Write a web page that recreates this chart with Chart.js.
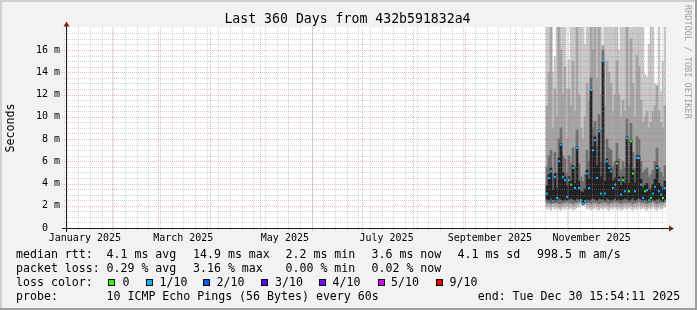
<!DOCTYPE html>
<html>
<head>
<meta charset="utf-8">
<title>Last 360 Days from 432b591832a4</title>
<script src="https://cdn.jsdelivr.net/npm/chart.js@4.4.1/dist/chart.umd.min.js"></script>
<style>
  body { margin: 0; background: #f2f2f2; }
  #wrap { position: relative; width: 697px; height: 310px; overflow: hidden; font-family: 'DejaVu Sans Mono', monospace; color: #000; }
  #grafico { position: absolute; left: 0; top: 0; }
  .t { position: absolute; white-space: pre; font-size: 11.6px; line-height: 14px; }
  .box { position: absolute; width: 7px; height: 7px; box-sizing: border-box; border: 1px solid #000; top: 279px; }
  #titulo { position: absolute; left: 0; top: 11px; width: 695px; text-align: center; font-size: 13.2px; line-height: 16px; white-space: pre; }
  #unidade { position: absolute; left: -25px; top: 120.5px; width: 70px; height: 14px; text-align: center; font-size: 11.6px; line-height: 14px; transform: rotate(-90deg); }
  #marca { position: absolute; left: 692px; top: 5px; font-size: 8.6px; line-height: 9px; color: #a0a0a0; white-space: pre; transform-origin: 0 0; transform: rotate(90deg); }
</style>
</head>
<body>
<div id="wrap">
  <canvas id="grafico" width="697" height="310"></canvas>
  <div id="titulo">Last 360 Days from 432b591832a4</div>
  <div id="unidade">Seconds</div>
  <div id="marca">RRDTOOL / TOBI OETIKER</div>

  <span class="t" style="left:16px;top:247px">median rtt:</span>
  <span class="t" style="left:106.5px;top:247px">4.1 ms avg</span>
  <span class="t" style="left:193px;top:247px">14.9 ms max</span>
  <span class="t" style="left:285.5px;top:247px">2.2 ms min</span>
  <span class="t" style="left:371.5px;top:247px">3.6 ms now</span>
  <span class="t" style="left:457.5px;top:247px">4.1 ms sd</span>
  <span class="t" style="left:537px;top:247px">998.5 m am/s</span>

  <span class="t" style="left:16px;top:261px">packet loss:</span>
  <span class="t" style="left:106.5px;top:261px">0.29 % avg</span>
  <span class="t" style="left:193px;top:261px">3.16 % max</span>
  <span class="t" style="left:285.5px;top:261px">0.00 % min</span>
  <span class="t" style="left:371.5px;top:261px">0.02 % now</span>

  <span class="t" style="left:16px;top:275px">loss color:</span>
  <span class="box" style="left:108px;background:#26ff00"></span><span class="t" style="left:122.5px;top:275px">0</span>
  <span class="box" style="left:145.5px;background:#00b8ff"></span><span class="t" style="left:159.5px;top:275px">1/10</span>
  <span class="box" style="left:203px;background:#0059ff"></span><span class="t" style="left:216.5px;top:275px">2/10</span>
  <span class="box" style="left:261px;background:#5e00ff"></span><span class="t" style="left:275px;top:275px">3/10</span>
  <span class="box" style="left:319px;background:#7e00ff"></span><span class="t" style="left:332.5px;top:275px">4/10</span>
  <span class="box" style="left:377.5px;background:#dd00ff"></span><span class="t" style="left:391px;top:275px">5/10</span>
  <span class="box" style="left:435.5px;background:#ff0000"></span><span class="t" style="left:449.5px;top:275px">9/10</span>

  <span class="t" style="left:16px;top:289px">probe:</span>
  <span class="t" style="left:106.5px;top:289px">10 ICMP Echo Pings (56 Bytes) every 60s</span>
  <span class="t" style="left:477.7px;top:289px">end: Tue Dec 30 15:54:11 2025</span>
</div>
<script>
// x values are days since the graph start (Jan 4 2025 15:54), one sample every 1.2 days
const days = [288.6, 289.8, 291.0, 292.2, 293.4, 294.6, 295.8, 297.0, 298.2, 299.4,
              300.6, 301.8, 303.0, 304.2, 305.4, 306.6, 307.8, 309.0, 310.2, 311.4,
              312.6, 313.8, 315.0, 316.2, 317.4, 318.6, 319.8, 321.0, 322.2, 323.4,
              324.6, 325.8, 327.0, 328.2, 329.4, 330.6, 331.8, 333.0, 334.2, 335.4,
              336.6, 337.8, 339.0, 340.2, 341.4, 342.6, 343.8, 345.0, 346.2, 347.4,
              348.6, 349.8, 351.0, 352.2, 353.4, 354.6, 355.8, 357.0, 358.2, 359.4];

// median rtt in ms
const median = [3.1, 4.5, 5.1, 2.4, 4.6, 2.7, 6.0, 7.5, 4.6, 4.3,
                2.8, 4.3, 3.9, 5.4, 3.6, 7.2, 3.6, 2.5, 2.2, 2.4,
                4.9, 3.6, 12.4, 7.0, 7.9, 4.5, 8.7, 3.1, 15.0, 3.1,
                6.0, 5.4, 5.1, 3.6, 3.9, 5.8, 4.3, 3.0, 4.3, 3.3,
                8.1, 3.3, 7.8, 4.9, 3.3, 6.3, 6.3, 3.9, 2.7, 3.3,
                3.4, 2.5, 2.7, 3.1, 3.7, 5.4, 3.3, 3.0, 2.7, 3.6];

// loss level index of each median point (0 = no loss, 1 = 1/10)
const loss = [1, 1, 1, 1, 1, 1, 1, 1, 1, 1,
              1, 1, 0, 1, 1, 1, 1, 1, 1, 1,
              1, 1, 1, 1, 1, 1, 1, 1, 1, 1,
              1, 1, 1, 1, 1, 0, 1, 1, 0, 1,
              1, 0, 0, 0, 1, 1, 1, 1, 1, 0,
              1, 1, 0, 1, 1, 1, 1, 1, 0, 1];

// smoke: outer (lightest) band, min .. max ping
const lightLo = [1.7, 1.8, 1.6, 1.9, 1.7, 1.8, 1.7, 1.6, 1.8, 1.7,
                 1.9, 1.7, 1.8, 1.6, 1.7, 1.8, 1.9, 2.3, 2.0, 2.1,
                 1.7, 1.8, 1.6, 1.7, 1.8, 1.7, 1.6, 1.8, 1.7, 1.8,
                 1.7, 1.6, 1.8, 1.7, 1.9, 1.7, 1.8, 1.6, 1.7, 1.8,
                 1.7, 1.8, 1.7, 1.6, 1.8, 1.7, 1.9, 1.7, 1.8, 1.7,
                 1.6, 1.8, 1.7, 1.9, 1.7, 1.6, 1.8, 1.7, 1.8, 1.9];
const lightHi = [18.1, 18.1, 18.1, 14.0, 15.4, 18.1, 18.1, 18.1, 18.1, 18.1,
                 12.5, 15.1, 18.1, 18.1, 18.1, 18.1, 18.1, 18.1, 18.1, 16.5,
                 18.1, 18.1, 18.1, 18.1, 18.1, 18.1, 18.1, 18.1, 16.4, 18.1,
                 18.1, 18.1, 18.1, 18.1, 18.1, 18.1, 16.0, 18.1, 18.1, 18.1,
                 18.1, 18.1, 18.1, 18.1, 18.1, 18.1, 18.1, 18.1, 18.1, 13.8,
                 13.6, 16.5, 18.1, 18.1, 13.0, 12.8, 18.1, 12.3, 15.0, 18.1];

// smoke: middle band
const midLo = [2.0, 2.1, 1.9, 2.2, 2.0, 2.1, 1.9, 1.9, 2.0, 2.0,
               2.2, 2.0, 2.1, 1.9, 2.0, 2.1, 2.2, 2.35, 2.05, 2.3,
               2.0, 2.1, 1.9, 2.0, 2.1, 2.0, 1.9, 2.1, 2.0, 2.1,
               2.0, 1.9, 2.1, 2.0, 2.2, 2.0, 2.1, 1.9, 2.0, 2.1,
               2.0, 2.1, 2.0, 1.9, 2.1, 2.0, 2.2, 2.0, 2.1, 2.0,
               1.9, 2.1, 2.0, 2.2, 2.0, 1.9, 2.1, 2.0, 2.1, 2.2];
const midHi = [11.0, 14.0, 18.1, 9.0, 12.5, 10.0, 18.1, 16.0, 12.0, 14.5,
               8.0, 12.5, 11.0, 15.0, 10.5, 18.1, 12.0, 9.0, 8.0, 10.0,
               13.0, 11.5, 18.1, 16.0, 18.1, 13.5, 18.1, 12.0, 16.4, 11.0,
               15.0, 14.0, 13.0, 10.5, 12.0, 15.0, 12.0, 10.0, 11.5, 10.5,
               18.1, 11.0, 17.0, 13.0, 10.0, 15.5, 14.5, 11.5, 9.5, 10.0,
               10.5, 9.0, 9.5, 10.5, 11.0, 12.8, 10.5, 9.5, 9.0, 11.0];

// smoke: dark band
const darkLo = [2.3, 2.3, 2.2, 2.3, 2.3, 2.3, 2.2, 2.2, 2.3, 2.3,
                2.4, 2.3, 2.3, 2.2, 2.3, 2.3, 2.4, 2.4, 2.1, 2.3,
                2.3, 2.3, 2.2, 2.3, 2.3, 2.3, 2.2, 2.3, 2.3, 2.3,
                2.3, 2.2, 2.3, 2.3, 2.4, 2.3, 2.3, 2.2, 2.3, 2.3,
                2.3, 2.3, 2.3, 2.2, 2.3, 2.3, 2.4, 2.3, 2.3, 2.3,
                2.2, 2.3, 2.3, 2.4, 2.3, 2.2, 2.3, 2.3, 2.3, 2.4];
const darkHi = [5.5, 6.5, 7.0, 4.6, 6.8, 5.0, 8.0, 9.0, 6.5, 6.2,
                5.0, 6.5, 5.8, 7.2, 5.4, 8.8, 5.8, 4.6, 4.2, 4.8,
                7.0, 6.0, 13.5, 9.0, 9.6, 7.4, 10.2, 6.0, 16.0, 5.8,
                8.0, 7.2, 7.0, 5.6, 6.0, 7.6, 6.2, 5.2, 6.0, 5.4,
                9.8, 5.6, 9.4, 6.8, 5.4, 8.2, 8.0, 6.0, 5.0, 5.2,
                5.4, 4.6, 4.8, 5.2, 6.0, 7.2, 5.4, 5.0, 4.6, 5.6];

// smoke: core (black) band
const coreLo = [2.6, 2.5, 2.7, 2.3, 2.6, 2.5, 2.7, 2.6, 2.5, 2.6,
                2.5, 2.6, 2.7, 2.6, 2.5, 2.7, 2.6, 2.45, 2.15, 2.3,
                2.6, 2.5, 2.6, 2.7, 2.6, 2.5, 2.7, 2.6, 2.6, 2.5,
                2.7, 2.6, 2.5, 2.6, 2.7, 2.5, 2.6, 2.5, 2.6, 2.7,
                2.6, 2.5, 2.6, 2.7, 2.5, 2.6, 2.7, 2.6, 2.5, 2.6,
                2.5, 2.4, 2.5, 2.6, 2.5, 2.6, 2.7, 2.5, 2.4, 2.6];
const coreHi = [3.8, 4.8, 5.4, 3.4, 4.9, 3.6, 6.3, 7.6, 5.0, 4.6,
                3.8, 4.6, 4.2, 5.6, 4.0, 7.3, 4.2, 3.3, 3.2, 3.5,
                5.2, 4.4, 12.4, 7.3, 8.2, 5.6, 8.8, 4.6, 15.0, 4.2,
                6.2, 5.6, 5.3, 4.2, 4.5, 6.0, 4.6, 3.8, 4.6, 4.0,
                8.2, 4.0, 7.9, 5.2, 4.0, 6.5, 6.5, 4.4, 3.6, 3.8,
                4.0, 3.4, 3.5, 3.9, 4.4, 5.6, 4.0, 3.7, 3.4, 4.2];

// axis ticks and labels
const yTicks = [0, 2, 4, 6, 8, 10, 12, 14, 16];
const yLabels = ['0  ', '2 m', '4 m', '6 m', '8 m', '10 m', '12 m', '14 m', '16 m'];
const xTickDays = [11.34, 70.34, 131.34, 192.34, 254.34, 315.34];
const xTickLabels = ['January 2025', 'March 2025', 'May 2025', 'July 2025', 'September 2025', 'November 2025'];
const monthStarts = [27.34, 55.34, 86.34, 116.34, 147.34, 177.34, 208.34, 239.34, 269.34, 300.34, 330.34];
const firstSunday = 0.34;

const lossColors = ['#26ff00', '#00b8ff'];

// rrdtool style background, grid, axes and arrows
const rrdFrame = {
    id: 'rrdFrame',
    beforeDraw(chart) {
        const ctx = chart.ctx;
        const a = chart.chartArea;
        ctx.save();
        ctx.fillStyle = '#f2f2f2';
        ctx.fillRect(0, 0, 697, 310);
        ctx.fillStyle = '#cfcfcf';
        ctx.fillRect(0, 0, 697, 2);
        ctx.fillRect(0, 0, 2, 310);
        ctx.fillStyle = '#9e9e9e';
        ctx.fillRect(0, 308, 697, 2);
        ctx.fillRect(695, 0, 2, 310);
        ctx.fillStyle = '#ffffff';
        ctx.fillRect(a.left, a.top, a.right - a.left, a.bottom - a.top);
        ctx.restore();
    },
    afterDatasetsDraw(chart) {
        const ctx = chart.ctx;
        const a = chart.chartArea;
        const xs = chart.scales.x;
        const ys = chart.scales.y;
        const minor = 'rgba(143,143,143,0.38)';
        const major = 'rgba(222,79,79,0.42)';
        ctx.save();
        ctx.lineWidth = 1;
        ctx.setLineDash([1, 1]);

        function vline(d, color, ext) {
            const px = Math.round(xs.getPixelForValue(d)) + 0.5;
            ctx.strokeStyle = color;
            ctx.beginPath();
            ctx.moveTo(px, a.bottom + ext);
            ctx.lineTo(px, a.top);
            ctx.stroke();
        }
        function hline(v, color, ext) {
            const py = Math.round(ys.getPixelForValue(v)) + 0.5;
            ctx.strokeStyle = color;
            ctx.beginPath();
            ctx.moveTo(a.left - ext, py);
            ctx.lineTo(a.right, py);
            ctx.stroke();
        }

        // minor grid: every 0.5 ms and every week
        for (let v = 0.5; v < 18; v += 0.5) {
            if (v % 2 !== 0) hline(v, minor, 2);
        }
        for (let d = firstSunday; d < 360; d += 7) vline(d, minor, 2);
        // major grid: every 2 ms and every month
        yTicks.forEach(v => { if (v > 0) hline(v, major, 4); });
        monthStarts.forEach(d => vline(d, major, 3));

        // axes
        ctx.setLineDash([]);
        ctx.strokeStyle = '#1f1f1f';
        ctx.beginPath();
        ctx.moveTo(a.left - 4, a.bottom + 0.5);
        ctx.lineTo(a.right + 3, a.bottom + 0.5);
        ctx.moveTo(a.left + 0.5, a.bottom + 4);
        ctx.lineTo(a.left + 0.5, a.top - 1);
        ctx.stroke();

        // arrows
        ctx.fillStyle = '#801f1f';
        ctx.beginPath();
        ctx.moveTo(a.right + 3, a.bottom - 2.5);
        ctx.lineTo(a.right + 8, a.bottom + 0.5);
        ctx.lineTo(a.right + 3, a.bottom + 3.5);
        ctx.closePath();
        ctx.fill();
        ctx.beginPath();
        ctx.moveTo(a.left - 2.5, a.top - 0.5);
        ctx.lineTo(a.left + 0.5, a.top - 5.5);
        ctx.lineTo(a.left + 3.5, a.top - 0.5);
        ctx.closePath();
        ctx.fill();
        ctx.restore();
    }
};

// one floating bar dataset per smoke band
function smokeBand(lo, hi, color, order) {
    return {
        type: 'bar',
        data: days.map((d, i) => ({ x: d, y: [lo[i], hi[i]] })),
        backgroundColor: color,
        borderWidth: 0,
        barPercentage: 1,
        categoryPercentage: 1,
        grouped: false,
        order: order
    };
}

const contexto = document.getElementById('grafico').getContext('2d');
const grafico = new Chart(contexto, {
    type: 'bar',
    data: {
        datasets: [
            {
                type: 'line',
                data: days.map((d, i) => ({ x: d, y: median[i] })),
                showLine: false,
                pointStyle: 'rect',
                pointRadius: 1.45,
                pointBorderWidth: 0,
                pointBackgroundColor: loss.map(l => lossColors[l]),
                order: 0
            },
            smokeBand(coreLo, coreHi, '#222222', 1),
            smokeBand(darkLo, darkHi, '#6e6e6e', 2),
            smokeBand(midLo, midHi, '#a4a4a4', 3),
            smokeBand(lightLo, lightHi, '#c8c8c8', 4)
        ]
    },
    options: {
        responsive: false,
        animation: false,
        events: [],
        layout: { padding: { left: 0, top: 27, right: 31, bottom: 62 } },
        plugins: {
            legend: { display: false },
            title: { display: false },
            tooltip: { enabled: false }
        },
        scales: {
            x: {
                type: 'linear',
                min: 0,
                max: 360,
                offset: false,
                grid: { display: false, drawTicks: false },
                border: { display: false },
                afterBuildTicks: s => { s.ticks = xTickDays.map(v => ({ value: v })); },
                afterFit: s => { s.height = 20; },
                ticks: {
                    autoSkip: false,
                    maxRotation: 0,
                    padding: 4,
                    color: '#000',
                    font: { family: 'DejaVu Sans Mono', size: 10 },
                    callback: (v, i) => xTickLabels[i]
                }
            },
            y: {
                min: 0,
                max: 18.07,
                grid: { display: false, drawTicks: false },
                border: { display: false },
                afterBuildTicks: s => { s.ticks = yTicks.map(v => ({ value: v })); },
                afterFit: s => { s.width = 66; },
                ticks: {
                    padding: 6,
                    color: '#000',
                    font: { family: 'DejaVu Sans Mono', size: 10 },
                    callback: (v, i) => yLabels[i]
                }
            }
        }
    },
    plugins: [rrdFrame]
});
</script>
</body>
</html>
